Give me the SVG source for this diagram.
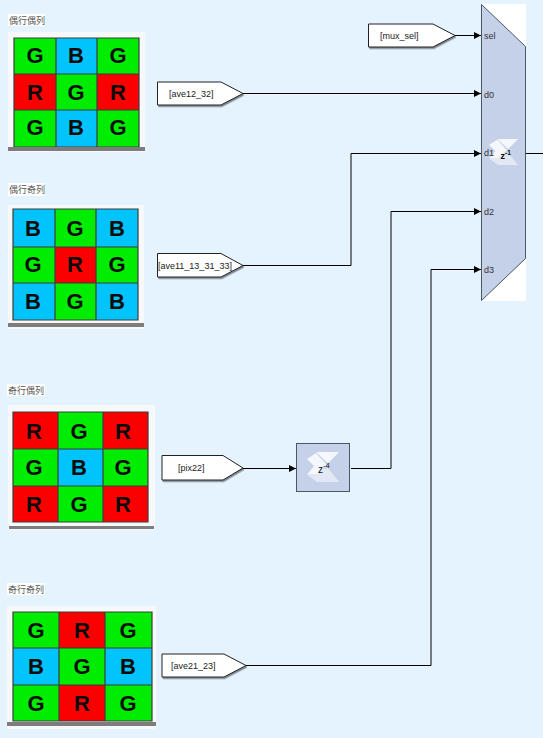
<svg xmlns="http://www.w3.org/2000/svg" width="543" height="738" viewBox="0 0 543 738">
<style>
text{font-family:"Liberation Sans",Arial,sans-serif}
.cap{font-family:"Noto Sans CJK SC","Liberation Serif",sans-serif;font-size:9px;fill:#555}
.l{font-weight:bold;font-size:22px;fill:#0a0a0a;text-anchor:middle}
.g{fill:#00ec00}.b{fill:#00c4fb}.r{fill:#fb0000}
.grid{fill:none;stroke:#3c3c3c;stroke-width:1.2}
.bar{fill:#7d7d7d}
.goto{fill:#fff;stroke:#222;stroke-width:1;filter:url(#sh)}
.t{font-size:9px;fill:#222}
.p{font-size:9px;fill:#333}
.w{fill:none;stroke:#000;stroke-width:1;marker-end:url(#a)}
.w0{fill:none;stroke:#000;stroke-width:1}
.blk{fill:#c5d1e8;stroke:#4a5566;stroke-width:1}
</style>
<defs>
<marker id="a" markerUnits="userSpaceOnUse" markerWidth="8" markerHeight="8" refX="7" refY="4" orient="auto"><path d="M0 0.5L7 4L0 7.500Z" fill="#000"/></marker>
<filter id="sh" x="-10%" y="-20%" width="120%" height="140%"><feDropShadow dx="1" dy="1.500" stdDeviation="0.600" flood-color="#000" flood-opacity=".45"/></filter>
<g id="logo">
<path fill="#f4f7fc" d="M9 0H32L21 11.500ZM0 7L9 1L20 13L10 22.500H0L7 14Z"/>
<path fill="#e3e9f4" d="M21 16L32 30H10L0 22.500H10L15.500 17.500Z"/>
</g>
</defs>
<rect width="543" height="738" fill="#e5f3ff"/>

<g id="bayer-even-even">
<rect x="8" y="14" width="37" height="12" fill="#fff"/><text class="cap" x="9" y="23.500">偶行偶列</text>
<rect x="8" y="32" width="137" height="120" fill="#f7f8fa"/>
<rect class="g" x="14" y="38" width="42" height="36"/><rect class="b" x="56" y="38" width="41" height="36"/><rect class="g" x="97" y="38" width="42" height="36"/>
<rect class="r" x="14" y="74" width="42" height="36"/><rect class="g" x="56" y="74" width="41" height="36"/><rect class="r" x="97" y="74" width="42" height="36"/>
<rect class="g" x="14" y="110" width="42" height="37"/><rect class="b" x="56" y="110" width="41" height="37"/><rect class="g" x="97" y="110" width="42" height="37"/>
<path class="grid" d="M14 38H139V147H14ZM56 38V147M97 38V147M14 74H139M14 110H139"/>
<rect class="bar" x="8" y="147" width="137" height="4"/>
<text class="l" x="35" y="63">G</text><text class="l" x="76" y="63">B</text><text class="l" x="118" y="63">G</text>
<text class="l" x="35" y="100">R</text><text class="l" x="76" y="100">G</text><text class="l" x="118" y="100">R</text>
<text class="l" x="35" y="135">G</text><text class="l" x="76" y="135">B</text><text class="l" x="118" y="135">G</text>
</g>

<g id="bayer-even-odd">
<rect x="8" y="183" width="37" height="13" fill="#fff"/><text class="cap" x="9" y="192.500">偶行奇列</text>
<rect x="8" y="205" width="136" height="124" fill="#f7f8fa"/>
<rect class="b" x="13" y="209" width="42" height="38"/><rect class="g" x="55" y="209" width="41" height="38"/><rect class="b" x="96" y="209" width="42" height="38"/>
<rect class="g" x="13" y="247" width="42" height="36"/><rect class="r" x="55" y="247" width="41" height="36"/><rect class="g" x="96" y="247" width="42" height="36"/>
<rect class="b" x="13" y="283" width="42" height="37"/><rect class="g" x="55" y="283" width="41" height="37"/><rect class="b" x="96" y="283" width="42" height="37"/>
<path class="grid" d="M13 209H138V320H13ZM55 209V320M96 209V320M13 247H138M13 283H138"/>
<rect class="bar" x="8" y="323" width="136" height="4"/>
<text class="l" x="33" y="236">B</text><text class="l" x="75" y="236">G</text><text class="l" x="117" y="236">B</text>
<text class="l" x="33" y="272">G</text><text class="l" x="75" y="272">R</text><text class="l" x="117" y="272">G</text>
<text class="l" x="33" y="309">B</text><text class="l" x="75" y="309">G</text><text class="l" x="117" y="309">B</text>
</g>

<g id="bayer-odd-even">
<rect x="7" y="384" width="38" height="12" fill="#fff"/><text class="cap" x="8" y="393.500">奇行偶列</text>
<rect x="8" y="405" width="147" height="125" fill="#f7f8fa"/>
<rect class="r" x="13" y="412" width="45" height="37"/><rect class="g" x="58" y="412" width="45" height="37"/><rect class="r" x="103" y="412" width="45" height="37"/>
<rect class="g" x="13" y="449" width="45" height="37"/><rect class="b" x="58" y="449" width="45" height="37"/><rect class="g" x="103" y="449" width="45" height="37"/>
<rect class="r" x="13" y="486" width="45" height="36"/><rect class="g" x="58" y="486" width="45" height="36"/><rect class="r" x="103" y="486" width="45" height="36"/>
<path class="grid" d="M13 412H148V522H13ZM58 412V522M103 412V522M13 449H148M13 486H148"/>
<rect class="bar" x="9" y="526" width="145" height="3"/>
<text class="l" x="34" y="439">R</text><text class="l" x="79" y="439">G</text><text class="l" x="123" y="439">R</text>
<text class="l" x="34" y="475">G</text><text class="l" x="79" y="475">B</text><text class="l" x="123" y="475">G</text>
<text class="l" x="34" y="512">R</text><text class="l" x="79" y="512">G</text><text class="l" x="123" y="512">R</text>
</g>

<g id="bayer-odd-odd">
<rect x="7" y="583" width="38" height="12" fill="#fff"/><text class="cap" x="8" y="592.500">奇行奇列</text>
<rect x="7" y="606" width="149" height="123" fill="#f7f8fa"/>
<rect class="g" x="13" y="612" width="46" height="36"/><rect class="r" x="59" y="612" width="46" height="36"/><rect class="g" x="105" y="612" width="47" height="36"/>
<rect class="b" x="13" y="648" width="46" height="37"/><rect class="g" x="59" y="648" width="46" height="37"/><rect class="b" x="105" y="648" width="47" height="37"/>
<rect class="g" x="13" y="685" width="46" height="36"/><rect class="r" x="59" y="685" width="46" height="36"/><rect class="g" x="105" y="685" width="47" height="36"/>
<path class="grid" d="M13 612H152V721H13ZM59 612V721M105 612V721M13 648H152M13 685H152"/>
<rect class="bar" x="7" y="722" width="149" height="4"/>
<text class="l" x="36" y="638">G</text><text class="l" x="82" y="638">R</text><text class="l" x="128" y="638">G</text>
<text class="l" x="36" y="674">B</text><text class="l" x="82" y="674">G</text><text class="l" x="128" y="674">B</text>
<text class="l" x="36" y="711">G</text><text class="l" x="82" y="711">R</text><text class="l" x="128" y="711">G</text>
</g>

<g id="connectors">
<path class="w" d="M455 35.500H481"/>
<path class="w" d="M243 93.500H481"/>
<path class="w" d="M243 265.500H351V153.500H481"/>
<path class="w" d="M351 468.500H391V211.500H481"/>
<path class="w" d="M246 665.500H431V269.500H481"/>
<path class="w" d="M243 468.500H296"/>
<path class="w0" d="M526 153.500H543"/>
</g>

<g id="goto-mux-sel"><path class="goto" d="M368.500 24H433L455 35.500L433 47H368.500Z"/><text class="t" x="380" y="38.500">[mux_sel]</text></g>
<g id="goto-ave12-32"><path class="goto" d="M157.500 82H221L243 93.500L221 105H157.500Z"/><text class="t" x="169" y="96.500">[ave12_32]</text></g>
<g id="goto-ave11"><path class="goto" d="M157.500 253.500H221L243 265.500L221 277H157.500Z"/><text class="t" x="158" y="268.500">[ave11_13_31_33]</text></g>
<g id="goto-pix22"><path class="goto" d="M162 455.500H223L243 468L223 480H162Z"/><text class="t" x="178" y="471">[pix22]</text></g>
<g id="goto-ave21-23"><path class="goto" d="M162 654H224L246 665.500L224 677H162Z"/><text class="t" x="171" y="668.500">[ave21_23]</text></g>

<g id="mux">
<rect x="481" y="4" width="45" height="297" fill="#fff"/>
<path class="blk" d="M481.500 4.500L525.500 46.500V258.500L481.500 300.500Z"/>
<use href="#logo" transform="translate(489 139) scale(.91 .87)"/>
<text class="p" x="484" y="38.500">sel</text>
<text class="p" x="484" y="97.500">d0</text>
<text class="p" x="484" y="156">d1</text>
<text class="p" x="484" y="215">d2</text>
<text class="p" x="484" y="273">d3</text>
<text x="500.500" y="158.500" font-size="9" font-weight="bold" fill="#111">z<tspan dy="-4" font-size="6.500">-1</tspan></text>
</g>

<g id="delay">
<rect class="blk" x="296.500" y="443.500" width="53" height="48"/>
<use href="#logo" transform="translate(307 452)"/>
<text x="318" y="473" font-size="10" fill="#111">z<tspan dy="-5" font-size="7.500">-4</tspan></text>
</g>
</svg>
